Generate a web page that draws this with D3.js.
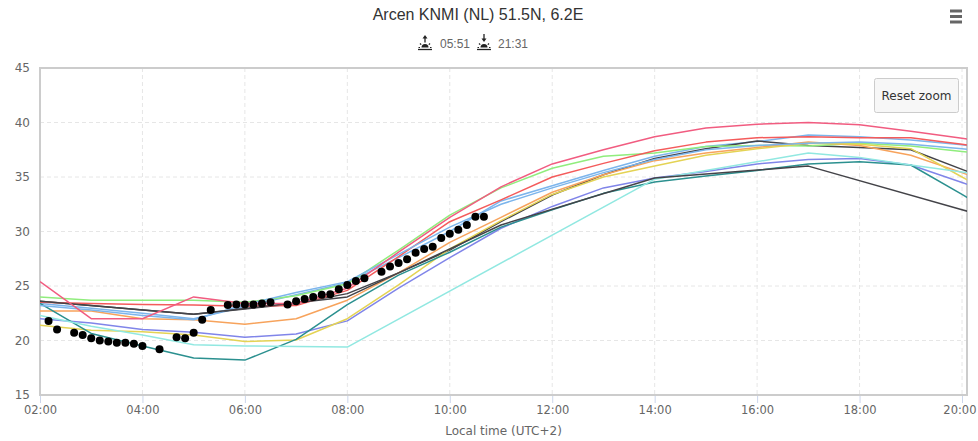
<!DOCTYPE html>
<html><head><meta charset="utf-8">
<script src="https://cdn.jsdelivr.net/npm/d3@7"></script>
<style>
html,body{margin:0;padding:0;background:#fff;}
svg{display:block;}
</style></head>
<body>
<svg id="c" width="978" height="441"></svg>
<script>
// ---------- DATA ----------
const titleText = "Arcen KNMI (NL) 51.5N, 6.2E";
const sunrise = "05:51";
const sunset = "21:31";
const xAxisTitle = "Local time (UTC+2)";
const yTicks = [15, 20, 25, 30, 35, 40, 45];
const xTickLabels = ["02:00","04:00","06:00","08:00","10:00","12:00","14:00","16:00","18:00","20:00"];

// hourly model time stamps (hours)
const hourly = [2,3,4,5,6,7,8,9,10,11,12,13,14,15,16,17,18,19,20,21];
const lightBlueA = [23.4,22.95,22.5,22.0,23.1,24.2,25.3,27.6,30.0,32.8,34.2,35.6,36.9,37.8,38.25,38.85,38.7,38.4,37.95,37.4];
const darkA      = [23.6,23.2,22.8,22.4,22.9,23.4,24.3,26.2,28.3,30.9,33.35,35.2,36.7,37.6,38.3,37.9,37.7,37.5,35.7,33.9];
const green      = [24.0,23.7,23.7,23.7,23.5,24.1,25.2,28.3,31.5,34.0,35.8,36.9,37.2,37.8,37.9,37.85,38.1,37.85,37.35,36.85];
const orange     = [22.7,22.7,22.0,21.9,21.5,22.0,23.7,26.2,29.0,31.3,33.6,35.2,36.5,37.2,37.7,38.2,37.9,37.0,35.4,33.7];
const purple     = [22.0,21.6,21.0,20.75,20.3,20.6,21.8,24.8,27.6,30.3,32.3,34.0,34.9,35.5,36.2,36.6,36.7,36.1,34.5,32.8];
const pink       = [25.4,22.0,22.0,24.0,23.4,23.4,24.8,28.1,31.3,34.1,36.2,37.5,38.7,39.5,39.85,40.0,39.8,39.2,38.55,37.9];
const yellow     = [21.4,20.95,20.8,20.5,19.9,20.05,22.0,25.1,28.4,31.0,33.4,35.0,36.0,37.0,37.6,38.1,38.0,37.6,35.0,32.4];
const teal       = [23.4,20.65,19.5,18.4,18.2,20.1,23.3,26.0,28.1,30.4,32.0,33.5,34.55,35.1,35.6,36.2,36.4,36.1,33.4,30.7];
const red        = [23.5,23.4,23.3,23.25,23.15,23.2,24.6,27.7,30.9,32.9,35.0,36.25,37.4,38.2,38.6,38.7,38.6,38.6,38.0,37.4];
const lightBlueB = [23.2,22.8,22.3,21.9,23.3,24.4,25.4,27.9,30.4,32.5,34.0,35.4,36.6,37.5,37.9,38.1,38.2,38.0,37.6,37.0];

// irregular models
const cyanTimes  = [2,3,4,5,6,7,8,14,17,18,19,20,21];
const cyan       = [22.3,21.3,20.5,19.6,19.5,19.45,19.4,34.8,37.2,36.8,36.1,35.45,34.8];
const darkBTimes = [2,5,8,11,14,17,20,23];
const darkB      = [23.6,22.4,24.0,30.6,34.9,36.0,32.0,28.0];

// observations
const obsTimes = ["02:10","02:20","02:40","02:50","03:00","03:10","03:20","03:30","03:40","03:50","04:00","04:20","04:40","04:50","05:00","05:10","05:20","05:40","05:50","06:00","06:10","06:20","06:30","06:50","07:00","07:10","07:20","07:30","07:40","07:50","08:00","08:10","08:20","08:40","08:50","09:00","09:10","09:20","09:30","09:40","09:50","10:00","10:10","10:20","10:30","10:40"];
const obsValues = [21.8,21.0,20.7,20.5,20.2,20.0,19.9,19.8,19.8,19.7,19.5,19.2,20.3,20.2,20.7,21.9,22.8,23.25,23.3,23.3,23.3,23.4,23.5,23.3,23.6,23.8,24.0,24.2,24.25,24.7,25.1,25.45,25.7,26.3,26.8,27.1,27.45,28.05,28.4,28.6,29.4,29.8,30.15,30.6,31.35,31.35];

const seriesList = [
  {t: hourly, v: lightBlueA, c: "#7cb5ec"},
  {t: hourly, v: darkA, c: "#434348"},
  {t: hourly, v: green, c: "#90ed7d"},
  {t: hourly, v: orange, c: "#f7a35c"},
  {t: hourly, v: purple, c: "#8085e9"},
  {t: hourly, v: yellow, c: "#e4d354"},
  {t: hourly, v: teal, c: "#2b908f"},
  {t: hourly, v: red, c: "#f45b5b"},
  {t: cyanTimes, v: cyan, c: "#91e8e1"},
  {t: hourly, v: lightBlueB, c: "#7cb5ec"},
  {t: darkBTimes, v: darkB, c: "#434348"},
  {t: hourly, v: pink, c: "#f15c80"}
];

// ---------- LAYOUT ----------
const L = 40, R = 967, T = 68, B = 395;
const svg = d3.select("#c");
const x = d3.scaleLinear().domain([2, 20.0976]).range([L, R]);
const y = d3.scaleLinear().domain([15, 45]).range([B, T]);
const tickFont = "'DejaVu Sans', sans-serif";

svg.append("defs").append("clipPath").attr("id","clip")
  .append("rect").attr("x", L).attr("y", T).attr("width", R-L).attr("height", B-T);

// grid
const parseHM = s => { const [h,m] = s.split(":").map(Number); return h + m/60; };
const xTickVals = xTickLabels.map(parseHM);
svg.append("g").selectAll("line").data(yTicks.filter(d => d>15 && d<45)).join("line")
  .attr("x1", L).attr("x2", R).attr("y1", d => y(d)).attr("y2", d => y(d))
  .attr("stroke", "#e6e6e6").attr("stroke-dasharray", "4,3");
svg.append("g").selectAll("line").data(xTickVals.filter(d => d>2)).join("line")
  .attr("x1", d => x(d)).attr("x2", d => x(d)).attr("y1", T).attr("y2", B)
  .attr("stroke", "#e6e6e6").attr("stroke-dasharray", "4,3");

// x axis ticks & labels
const xAxis = d3.axisBottom(x).tickValues(xTickVals).tickSize(8)
  .tickFormat((d,i) => xTickLabels[i]);
const gx = svg.append("g").attr("transform", `translate(0,${B})`).call(xAxis);
gx.select(".domain").remove();
gx.selectAll(".tick line").attr("stroke", "#ccd6eb");
gx.selectAll(".tick text").attr("fill", "#666").attr("font-size", "11.5px")
  .attr("font-family", tickFont).attr("dy", "0.95em").attr("y", 8);
// keep last label inside the window
gx.selectAll(".tick text").filter((d,i,n) => i === n.length - 1)
  .attr("text-anchor", "end").attr("x", 976 - x(xTickVals[xTickVals.length-1]));

// y axis labels
const yAxis = d3.axisLeft(y).tickValues(yTicks).tickSize(0).tickPadding(10);
const gy = svg.append("g").attr("transform", `translate(${L},0)`).call(yAxis);
gy.select(".domain").remove();
gy.selectAll(".tick text").attr("fill", "#666").attr("font-size", "12px")
  .attr("font-family", tickFont);

// plot border
svg.append("rect").attr("x", L).attr("y", T).attr("width", R-L).attr("height", B-T)
  .attr("fill", "none").attr("stroke", "#cccccc").attr("stroke-width", 2);

// lines
const line = d3.line().x(d => x(d[0])).y(d => y(d[1]));
const gl = svg.append("g").attr("clip-path", "url(#clip)");
seriesList.forEach(s => {
  const pts = s.t.map((t,i) => [t, s.v[i]]);
  gl.append("path").datum(pts).attr("d", line)
    .attr("fill", "none").attr("stroke", s.c).attr("stroke-width", 1.5)
    .attr("stroke-linejoin", "round");
});

// observations
gl.append("g").selectAll("circle").data(obsTimes.map((t,i) => [parseHM(t), obsValues[i]]))
  .join("circle").attr("cx", d => x(d[0])).attr("cy", d => y(d[1])).attr("r", 4)
  .attr("fill", "#000");

// x axis title
svg.append("text").attr("x", (L+R)/2).attr("y", 435).attr("text-anchor", "middle")
  .attr("fill", "#666").attr("font-size", "12px").attr("font-family", tickFont).text(xAxisTitle);

// title
svg.append("text").attr("x", 478).attr("y", 20).attr("text-anchor", "middle")
  .attr("fill", "#333").attr("font-size", "16px")
  .attr("font-family", "'Liberation Sans', Arial, sans-serif").text(titleText);

// subtitle with sun icons
function sunIcon(g, cx, up) {
  const c = "#222";
  g.append("line").attr("x1", cx-7).attr("x2", cx+7).attr("y1", 49.5).attr("y2", 49.5)
    .attr("stroke", c).attr("stroke-width", 1.3);
  g.append("path").attr("d", `M${cx-3.5},47.5 A3.5,3.5 0 0 1 ${cx+3.5},47.5 Z`).attr("fill", c);
  [[-6.5,47.5,-5,47.5],[5,47.5,6.5,47.5],[-5,43.5,-3.8,44.7],[5,43.5,3.8,44.7]].forEach(r => {
    g.append("line").attr("x1", cx+r[0]).attr("y1", r[1]).attr("x2", cx+r[2]).attr("y2", r[3])
      .attr("stroke", c).attr("stroke-width", 1.2);
  });
  g.append("line").attr("x1", cx).attr("x2", cx).attr("y1", up ? 38 : 34).attr("y2", up ? 42.5 : 39)
    .attr("stroke", c).attr("stroke-width", 1.3);
  if (up) g.append("path").attr("d", `M${cx-2.5},38.5 L${cx},35 L${cx+2.5},38.5 Z`).attr("fill", c);
  else g.append("path").attr("d", `M${cx-2.5},38.5 L${cx},42 L${cx+2.5},38.5 Z`).attr("fill", c);
}
const gs = svg.append("g");
sunIcon(gs, 425, true);
gs.append("text").attr("x", 440).attr("y", 48).attr("fill", "#666").attr("font-size", "12px")
  .attr("font-family", "'Liberation Sans', Arial, sans-serif").text(sunrise);
sunIcon(gs, 484, false);
gs.append("text").attr("x", 498).attr("y", 48).attr("fill", "#666").attr("font-size", "12px")
  .attr("font-family", "'Liberation Sans', Arial, sans-serif").text(sunset);

// hamburger menu
[11, 16.5, 22].forEach(yy => {
  svg.append("line").attr("x1", 950).attr("x2", 962).attr("y1", yy).attr("y2", yy)
    .attr("stroke", "#666").attr("stroke-width", 3);
});

// reset zoom button
svg.append("rect").attr("x", 874.5).attr("y", 78.5).attr("width", 84).attr("height", 34).attr("rx", 2)
  .attr("fill", "#f7f7f7").attr("stroke", "#cccccc");
svg.append("text").attr("x", 916.5).attr("y", 99.5).attr("text-anchor", "middle")
  .attr("fill", "#333").attr("font-size", "12px").attr("font-family", tickFont).text("Reset zoom");
</script>
</body></html>
